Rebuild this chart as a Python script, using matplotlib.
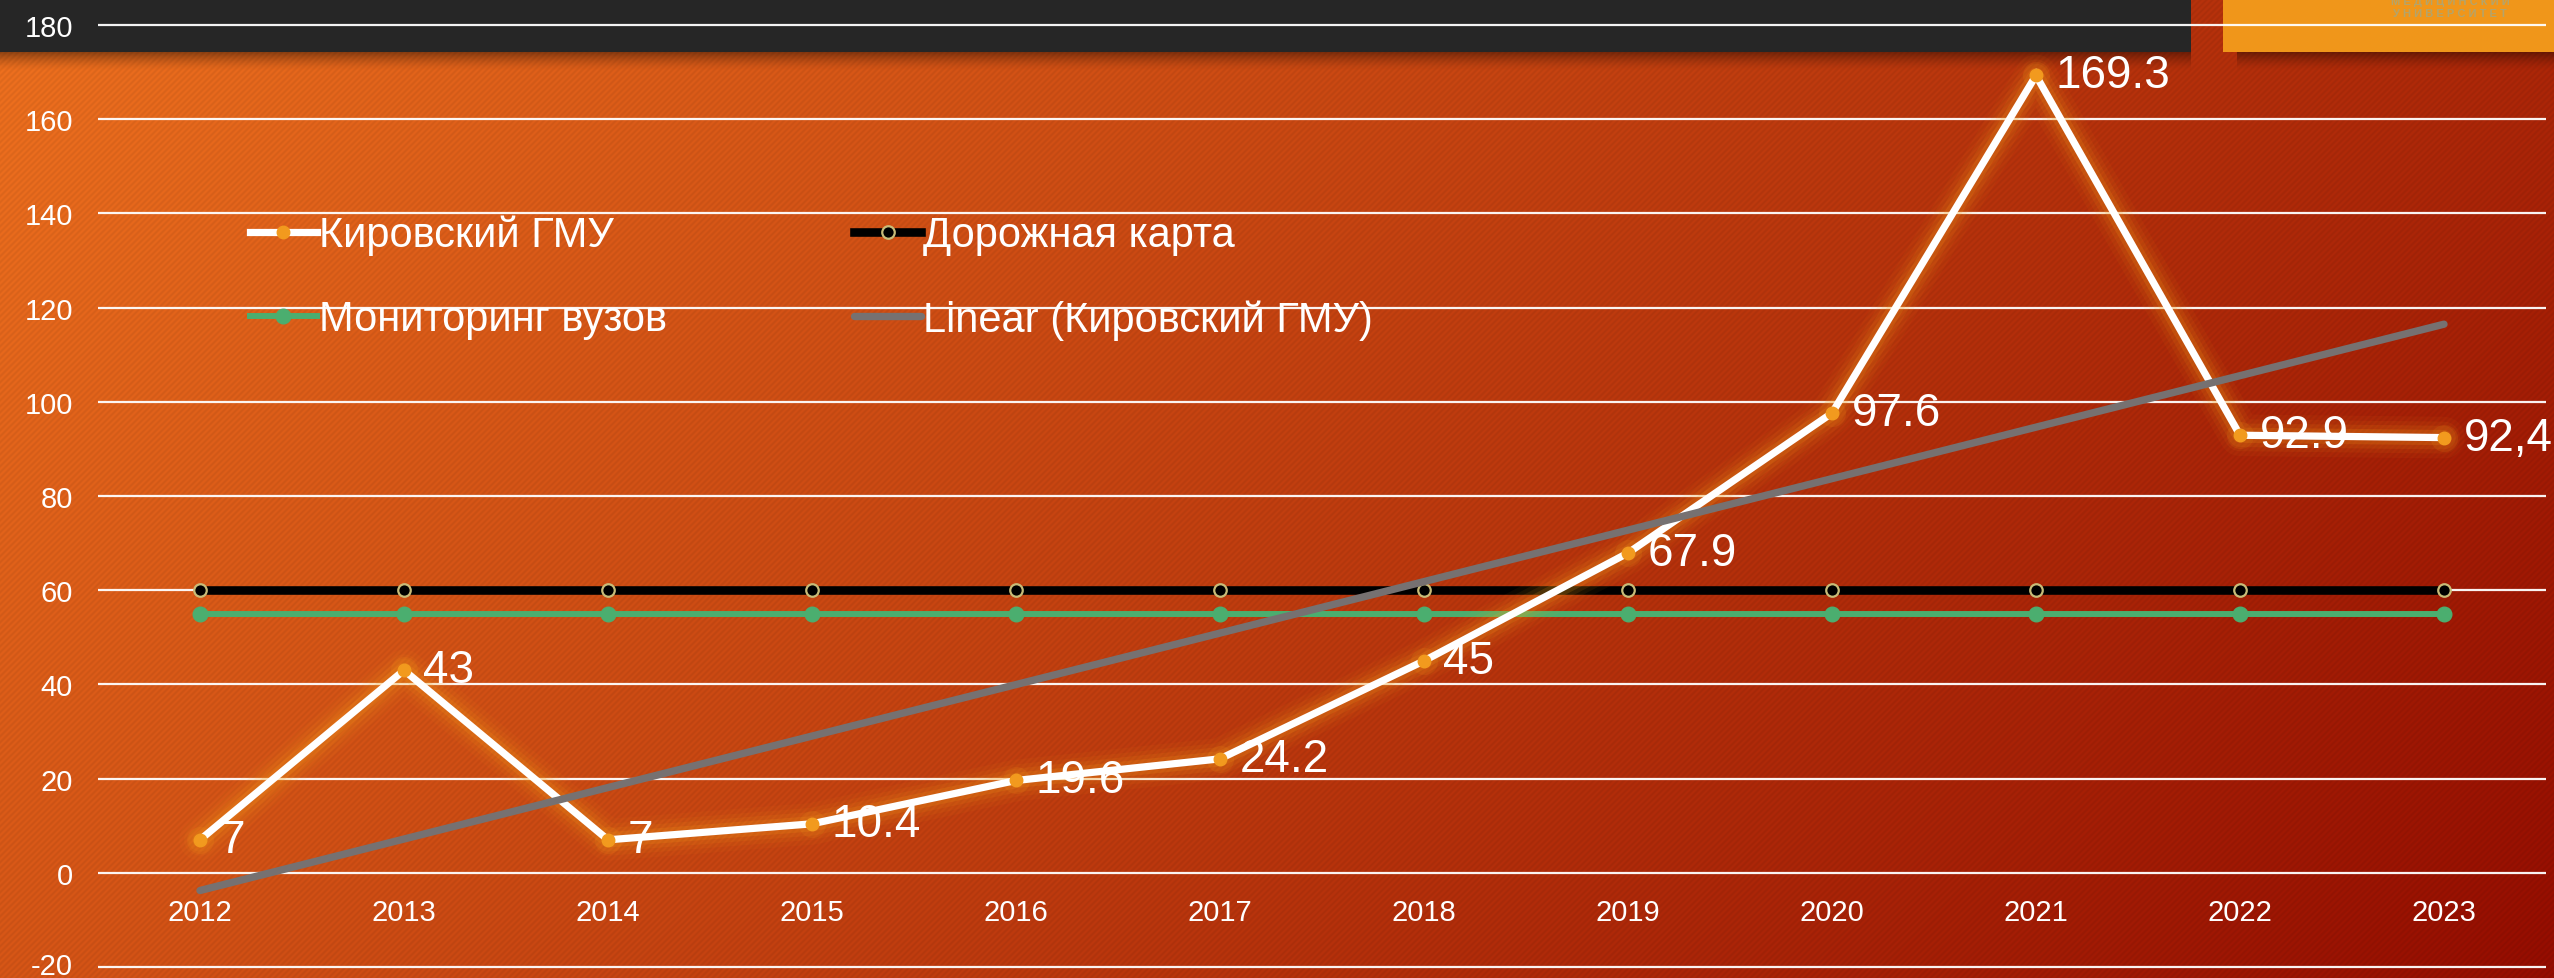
import numpy as np
import matplotlib
matplotlib.use('Agg')
import matplotlib.pyplot as plt
import matplotlib.transforms as mtransforms
from matplotlib.patches import Rectangle

# ---------------- data ----------------
years = ['2012', '2013', '2014', '2015', '2016', '2017',
         '2018', '2019', '2020', '2021', '2022', '2023']
kirov = [7, 43, 7, 10.4, 19.6, 24.2, 45, 67.9, 97.6, 169.3, 92.9, 92.4]
kirov_labels = ['7', '43', '7', '10.4', '19.6', '24.2', '45', '67.9',
                '97.6', '169.3', '92.9', '92,4']
roadmap = [60, 60, 60, 60, 60, 60, 60, 60, 60, 60, 60, 60]
monitoring = [55, 55, 55, 55, 55, 55, 55, 55, 55, 55, 55, 55]
names = ['Кировский ГМУ', 'Дорожная карта', 'Мониторинг вузов',
         'Linear (Кировский ГМУ)']
yticks = [-20, 0, 20, 40, 60, 80, 100, 120, 140, 160, 180]

plt.rcParams['font.family'] = ['Liberation Sans', 'DejaVu Sans']
plt.rcParams['axes.unicode_minus'] = False

W, H = 2554, 979
fig = plt.figure(figsize=(W / 100, H / 100), dpi=100)

# ---------------- background ----------------
ax_bg = fig.add_axes([0, 0, 1, 1], zorder=0)
ax_bg.set_xlim(0, W)
ax_bg.set_ylim(H, 0)
ax_bg.axis('off')
yy, xx = np.mgrid[0:H, 0:W].astype(np.float32)
t = (0.8 * xx / W + 0.3 * yy / H) / 1.1
c0 = np.array([232, 110, 30], dtype=np.float32) / 255
c1 = np.array([145, 12, 0], dtype=np.float32) / 255
img = c0[None, None, :] * (1 - t[..., None]) + c1[None, None, :] * t[..., None]
stripe = 1 + 0.035 * np.sin(2 * np.pi * (xx + yy) / 6.0)
img = np.clip(img * stripe[..., None], 0, 1)
ax_bg.imshow(img, extent=(0, W, H, 0), interpolation='nearest', aspect='auto')

# shadows under header bars
for i in range(18):
    a = 0.38 * (1 - i / 18) ** 1.5
    ax_bg.add_patch(Rectangle((0, 53 + i), 2191, 1, color='black', alpha=a, lw=0))
    ax_bg.add_patch(Rectangle((2237, 53 + i), W - 2237, 1, color='black', alpha=a, lw=0))
ax_bg.add_patch(Rectangle((0, 0), 2191, 53, color='#262626', lw=0))
ax_bg.add_patch(Rectangle((2223, 0), W - 2223, 53, color='#F0961A', lw=0))
ax_bg.text(2450, 1, 'М Е Д И Ц И Н С К И Й', fontsize=8, color='#B4A46A',
           ha='center', va='center', fontweight='bold')
ax_bg.text(2450, 14, 'У Н И В Е Р С И Т Е Т', fontsize=8, color='#B4A46A',
           ha='center', va='center', fontweight='bold')

# ---------------- main axes ----------------
ppu = 942 / 200.0
ax = fig.add_axes([98 / W, (11 - 0.5 * ppu) / H, (2546 - 98) / W, (942 + ppu) / H],
                  zorder=1)
ax.patch.set_alpha(0)
ax.set_xlim(-0.5, 11.5)
ax.set_ylim(-20.5, 180.5)
x = np.arange(len(years))

ax.set_yticks(yticks)
ax.set_xticks(x)
ax.set_xticklabels(years)
ax.yaxis.grid(True, color='white', lw=1.6, alpha=0.95)
ax.set_axisbelow(True)
for s in ax.spines.values():
    s.set_visible(False)
ax.spines['bottom'].set_position(('data', 0))
ax.tick_params(axis='x', length=0, pad=18.5, labelsize=21, labelcolor='white')
ax.tick_params(axis='y', length=0, pad=18, labelsize=21, labelcolor='white')
# nudge the lowest y label so it stays inside the picture
lowest = ax.get_yticklabels()[0]
lowest.set_transform(lowest.get_transform() +
                     mtransforms.ScaledTranslation(0, 4 / 100, fig.dpi_scale_trans))

# road map & monitoring
h_road, = ax.plot(x, roadmap, color='black', lw=6.2, marker='o', ms=9,
                  mfc='black', mec='#C8BC78', mew=1.6, zorder=2)
h_mon, = ax.plot(x, monitoring, color='#4BAE6F', lw=4.3, marker='o', ms=10.5,
                 mfc='#4BAE6F', mec='#4BAE6F', zorder=2)

# glow for main series
for lw, a in [(30, 0.05), (23, 0.07), (17, 0.10), (11, 0.16)]:
    ax.plot(x, kirov, color='#F7A21B', lw=lw, alpha=a, solid_joinstyle='round',
            solid_capstyle='round', zorder=3)
ax.scatter(x, kirov, s=380, color='#F7A21B', alpha=0.12, lw=0, zorder=3)

h_kirov, = ax.plot(x, kirov, color='white', lw=5.2, marker='o', ms=9,
                   mfc='#F29A1E', mec='#F29A1E', solid_joinstyle='miter', zorder=4)

# linear trend
coef = np.polyfit(x, kirov, 1)
trend = np.polyval(coef, x)
h_trend, = ax.plot(x, trend, color='#767171', lw=5.3, solid_capstyle='round', zorder=5)

for xi, yi, lab in zip(x, kirov, kirov_labels):
    ax.annotate(lab, (xi, yi), xytext=(14, 0), textcoords='offset points',
                ha='left', va='center', fontsize=33, color='white', zorder=6,
                annotation_clip=False)

leg = ax.legend([h_kirov, h_mon, h_road, h_trend],
                [names[0], names[2], names[1], names[3]],
                ncol=2, loc='upper left', bbox_to_anchor=(250 / W, 1 - 216 / H),
                bbox_transform=fig.transFigure, frameon=False, fontsize=30,
                handlelength=1.6, handletextpad=0.05, columnspacing=4.5,
                labelspacing=1.05, borderpad=0, borderaxespad=0, numpoints=1)
for txt in leg.get_texts():
    txt.set_color('white')

fig.savefig('out.png', dpi=100)
